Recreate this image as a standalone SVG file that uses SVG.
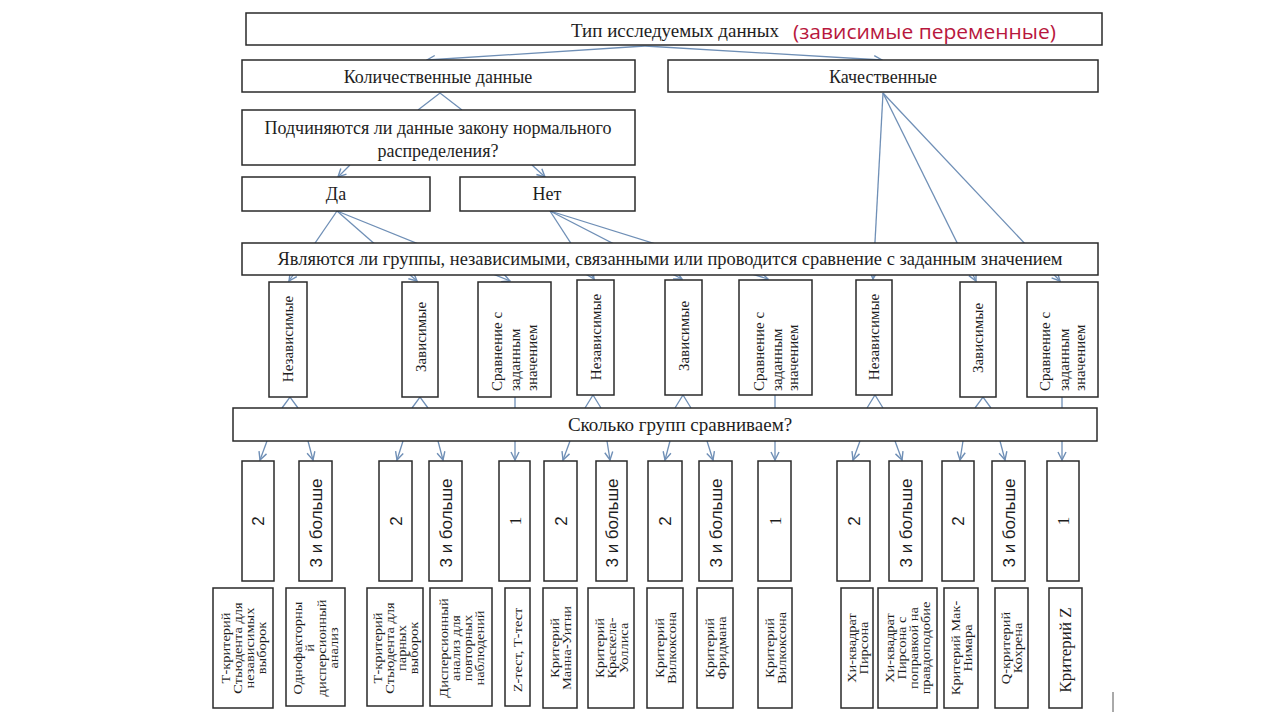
<svg xmlns="http://www.w3.org/2000/svg" width="1280" height="720" viewBox="0 0 1280 720">
<defs>
<marker id="arr" viewBox="0 0 10 10" refX="9" refY="5" markerWidth="10" markerHeight="10" markerUnits="userSpaceOnUse" orient="auto">
<path d="M1,1 L9,5 L1,9" fill="none" stroke="#6f8fb6" stroke-width="1.4"/>
</marker>
<style>
.b{fill:#fff;stroke:#2a2a2a;stroke-width:1.5}
.t{font-family:"Liberation Serif","Times New Roman",serif;fill:#1e1e1e}
.h{font-size:18px;text-anchor:middle}
.r3{font-size:15px}
.r4{font-family:"Liberation Sans",Arial,sans-serif;font-size:17px;fill:#1e1e1e;text-anchor:middle;dominant-baseline:central}
.r5{font-size:12px;text-anchor:middle;dominant-baseline:central}
.c{fill:none;stroke:#6f8fb6;stroke-width:1.3}
.ca{fill:none;stroke:#6f8fb6;stroke-width:1.3;marker-end:url(#arr)}
</style>
</defs>
<rect width="1280" height="720" fill="#fff"/>

<g id="connectors">
<line class="ca" x1="645" y1="46" x2="427" y2="60"/>
<line class="ca" x1="645" y1="46" x2="882" y2="60"/>
<path class="c" d="M418,110 L440,93 L462,110"/>
<line class="ca" x1="350" y1="165" x2="338" y2="177"/>
<line class="ca" x1="532" y1="165" x2="545" y2="177"/>
<line class="ca" x1="337" y1="211" x2="289" y2="281"/>
<line class="ca" x1="337" y1="211" x2="417" y2="281"/>
<line class="ca" x1="337" y1="211" x2="510" y2="281"/>
<line class="ca" x1="550" y1="211" x2="594" y2="279"/>
<line class="ca" x1="550" y1="211" x2="682" y2="279"/>
<line class="ca" x1="550" y1="211" x2="768" y2="279"/>
<line class="ca" x1="883" y1="93" x2="873" y2="279"/>
<line class="ca" x1="883" y1="93" x2="976" y2="281"/>
<line class="ca" x1="883" y1="93" x2="1060" y2="281"/>
<path class="c" d="M282,408 L290,397 L298,408"/>
<path class="c" d="M412,408 L420,397 L428,408"/>
<line class="c" x1="515" y1="397" x2="515" y2="408"/>
<path class="c" d="M585,408 L593,395 L601,408"/>
<path class="c" d="M675,408 L683,395 L691,408"/>
<line class="c" x1="775" y1="395" x2="775" y2="408"/>
<path class="c" d="M867,408 L875,395 L883,408"/>
<path class="c" d="M975,408 L983,397 L991,408"/>
<line class="c" x1="1062" y1="397" x2="1062" y2="408"/>
<line class="ca" x1="267" y1="441" x2="260" y2="460"/>
<line class="ca" x1="308" y1="441" x2="313" y2="460"/>
<line class="ca" x1="403" y1="441" x2="397" y2="460"/>
<line class="ca" x1="438" y1="441" x2="443" y2="460"/>
<line class="ca" x1="515" y1="441" x2="515" y2="460"/>
<line class="ca" x1="570" y1="441" x2="563" y2="460"/>
<line class="ca" x1="607" y1="441" x2="610" y2="460"/>
<line class="ca" x1="670" y1="441" x2="665" y2="460"/>
<line class="ca" x1="707" y1="441" x2="713" y2="460"/>
<line class="ca" x1="775" y1="441" x2="775" y2="460"/>
<line class="ca" x1="860" y1="441" x2="853" y2="460"/>
<line class="ca" x1="895" y1="441" x2="902" y2="460"/>
<line class="ca" x1="963" y1="441" x2="960" y2="460"/>
<line class="ca" x1="1000" y1="441" x2="1005" y2="460"/>
<line class="ca" x1="1062" y1="441" x2="1062" y2="460"/>
</g>

<g id="n-type"><rect class="b" x="246" y="13" width="856" height="32"/>
<text class="t" x="675" y="37" font-size="19" text-anchor="middle">Тип исследуемых данных</text>
<text x="793" y="39" font-family="'Open Sans','Liberation Sans',sans-serif" font-size="20" fill="#b8173d" textLength="263" lengthAdjust="spacingAndGlyphs">(зависимые переменные)</text></g>
<g id="n-quant"><rect class="b" x="242" y="60" width="393" height="32"/><text class="t h" x="438" y="83">Количественные данные</text></g>
<g id="n-qual"><rect class="b" x="668" y="60" width="430" height="32"/><text class="t h" x="883" y="83">Качественные</text></g>
<g id="n-normal"><rect class="b" x="242" y="110" width="393" height="55"/><text class="t h" x="438" y="134">Подчиняются ли данные закону нормального</text><text class="t h" x="438" y="157">распределения?</text></g>
<g id="n-yes"><rect class="b" x="242" y="177" width="188" height="34"/><text class="t h" x="336" y="200">Да</text></g>
<g id="n-no"><rect class="b" x="460" y="177" width="175" height="34"/><text class="t h" x="547" y="200">Нет</text></g>
<g id="n-groups"><rect class="b" x="242" y="243" width="856" height="32"/><text class="t h" x="670" y="265" textLength="785" lengthAdjust="spacingAndGlyphs">Являются ли группы, независимыми, связанными или проводится сравнение с заданным значением</text></g>

<g id="n-ind1"><rect class="b" x="269" y="282" width="38" height="115"/><text class="t r3" text-anchor="middle" dominant-baseline="central" transform="translate(288,339) rotate(-90)">Независимые</text></g>
<g id="n-dep1"><rect class="b" x="402" y="282" width="36" height="115"/><text class="t r3" text-anchor="middle" dominant-baseline="central" transform="translate(421,337) rotate(-90)">Зависимые</text></g>
<g id="n-cmp1"><rect class="b" x="478" y="282" width="73" height="115"/><text class="t r3" dominant-baseline="central" transform="translate(514,391) rotate(-90)"><tspan x="0" y="-17">Сравнение с</tspan><tspan x="0" y="1">заданным</tspan><tspan x="0" y="18">значением</tspan></text></g>
<g id="n-ind2"><rect class="b" x="577" y="280" width="37" height="115"/><text class="t r3" text-anchor="middle" dominant-baseline="central" transform="translate(596,337) rotate(-90)">Независимые</text></g>
<g id="n-dep2"><rect class="b" x="665" y="280" width="37" height="115"/><text class="t r3" text-anchor="middle" dominant-baseline="central" transform="translate(684,336) rotate(-90)">Зависимые</text></g>
<g id="n-cmp2"><rect class="b" x="739" y="280" width="73" height="115"/><text class="t r3" dominant-baseline="central" transform="translate(775,391) rotate(-90)"><tspan x="0" y="-16">Сравнение с</tspan><tspan x="0" y="2">заданным</tspan><tspan x="0" y="18">значением</tspan></text></g>
<g id="n-ind3"><rect class="b" x="856" y="280" width="36" height="115"/><text class="t r3" text-anchor="middle" dominant-baseline="central" transform="translate(874,337) rotate(-90)">Независимые</text></g>
<g id="n-dep3"><rect class="b" x="960" y="282" width="36" height="115"/><text class="t r3" text-anchor="middle" dominant-baseline="central" transform="translate(978,338) rotate(-90)">Зависимые</text></g>
<g id="n-cmp3"><rect class="b" x="1027" y="282" width="71" height="115"/><text class="t r3" dominant-baseline="central" transform="translate(1062,391) rotate(-90)"><tspan x="0" y="-17">Сравнение с</tspan><tspan x="0" y="2">заданным</tspan><tspan x="0" y="18">значением</tspan></text></g>

<g id="n-count"><rect class="b" x="233" y="408" width="864" height="33"/><text class="t" x="680" y="431" font-size="19" text-anchor="middle">Сколько групп сравниваем?</text></g>

<g id="n-k1"><rect class="b" x="242" y="461" width="32" height="120"/><text class="r4" transform="translate(258,521) rotate(-90)">2</text></g>
<g id="n-k2"><rect class="b" x="299" y="461" width="33" height="120"/><text class="r4" transform="translate(316,523) rotate(-90)">3 и больше</text></g>
<g id="n-k3"><rect class="b" x="379" y="461" width="33" height="120"/><text class="r4" transform="translate(396,521) rotate(-90)">2</text></g>
<g id="n-k4"><rect class="b" x="429" y="461" width="33" height="120"/><text class="r4" transform="translate(446,523) rotate(-90)">3 и больше</text></g>
<g id="n-k5"><rect class="b" x="499" y="461" width="31" height="120"/><text class="t" font-size="17" text-anchor="middle" dominant-baseline="central" transform="translate(515,521) rotate(-90)">1</text></g>
<g id="n-k6"><rect class="b" x="544" y="461" width="33" height="120"/><text class="r4" transform="translate(561,521) rotate(-90)">2</text></g>
<g id="n-k7"><rect class="b" x="596" y="461" width="31" height="120"/><text class="r4" transform="translate(612,523) rotate(-90)">3 и больше</text></g>
<g id="n-k8"><rect class="b" x="648" y="461" width="34" height="120"/><text class="r4" transform="translate(665,521) rotate(-90)">2</text></g>
<g id="n-k9"><rect class="b" x="699" y="461" width="33" height="120"/><text class="r4" transform="translate(716,523) rotate(-90)">3 и больше</text></g>
<g id="n-k10"><rect class="b" x="758" y="461" width="33" height="120"/><text class="t" font-size="17" text-anchor="middle" dominant-baseline="central" transform="translate(775,521) rotate(-90)">1</text></g>
<g id="n-k11"><rect class="b" x="837" y="461" width="33" height="120"/><text class="r4" transform="translate(854,521) rotate(-90)">2</text></g>
<g id="n-k12"><rect class="b" x="889" y="461" width="33" height="120"/><text class="r4" transform="translate(906,523) rotate(-90)">3 и больше</text></g>
<g id="n-k13"><rect class="b" x="942" y="461" width="32" height="120"/><text class="r4" transform="translate(958,521) rotate(-90)">2</text></g>
<g id="n-k14"><rect class="b" x="992" y="461" width="33" height="120"/><text class="r4" transform="translate(1009,523) rotate(-90)">3 и больше</text></g>
<g id="n-k15"><rect class="b" x="1047" y="461" width="32" height="120"/><text class="t" font-size="17" text-anchor="middle" dominant-baseline="central" transform="translate(1063,521) rotate(-90)">1</text></g>

<g id="n-m1"><rect class="b" x="213" y="588" width="60" height="120"/><text class="t r5" transform="translate(243,648) rotate(-90) scale(1.2,1)"><tspan x="0" y="-18">Т-критерий</tspan><tspan x="0" y="-6">Стьюдента для</tspan><tspan x="0" y="6">независимых</tspan><tspan x="0" y="18">выборок</tspan></text></g>
<g id="n-m2"><rect class="b" x="286" y="588" width="59" height="118"/><text class="t r5" transform="translate(315,648) rotate(-90) scale(1.2,1)"><tspan x="0" y="-18">Однофакторны</tspan><tspan x="0" y="-6">й</tspan><tspan x="0" y="6">дисперсионный</tspan><tspan x="0" y="18">анализ</tspan></text></g>
<g id="n-m3"><rect class="b" x="367" y="588" width="56" height="118"/><text class="t r5" transform="translate(395,648) rotate(-90) scale(1.2,1)"><tspan x="0" y="-18">Т-критерий</tspan><tspan x="0" y="-6">Стьюдента для</tspan><tspan x="0" y="6">парных</tspan><tspan x="0" y="18">выборок</tspan></text></g>
<g id="n-m4"><rect class="b" x="430" y="588" width="62" height="118"/><text class="t r5" transform="translate(461,648) rotate(-90) scale(1.2,1)"><tspan x="0" y="-18">Дисперсионный</tspan><tspan x="0" y="-6">анализ для</tspan><tspan x="0" y="6">повторных</tspan><tspan x="0" y="18">наблюдений</tspan></text></g>
<g id="n-m5"><rect class="b" x="505" y="588" width="25" height="118"/><text class="t r5" transform="translate(517.5,650) rotate(-90) scale(1.2,1)">Z-тест, Т-тест</text></g>
<g id="n-m6"><rect class="b" x="543" y="588" width="34" height="120"/><text class="t r5" transform="translate(560,648) rotate(-90) scale(1.2,1)"><tspan x="0" y="-6">Критерий</tspan><tspan x="0" y="6">Манна-Уитни</tspan></text></g>
<g id="n-m7"><rect class="b" x="588" y="588" width="46" height="120"/><text class="t r5" transform="translate(611,648) rotate(-90) scale(1.2,1)"><tspan x="0" y="-12">Критерий</tspan><tspan x="0" y="0">Краскела-</tspan><tspan x="0" y="12">Уоллиса</tspan></text></g>
<g id="n-m8"><rect class="b" x="647" y="588" width="36" height="120"/><text class="t r5" transform="translate(665,648) rotate(-90) scale(1.2,1)"><tspan x="0" y="-6">Критерий</tspan><tspan x="0" y="6">Вилкоксона</tspan></text></g>
<g id="n-m9"><rect class="b" x="697" y="588" width="36" height="120"/><text class="t r5" transform="translate(715,648) rotate(-90) scale(1.2,1)"><tspan x="0" y="-6">Критерий</tspan><tspan x="0" y="6">Фридмана</tspan></text></g>
<g id="n-m10"><rect class="b" x="758" y="588" width="34" height="120"/><text class="t r5" transform="translate(775,648) rotate(-90) scale(1.2,1)"><tspan x="0" y="-6">Критерий</tspan><tspan x="0" y="6">Вилкоксона</tspan></text></g>
<g id="n-m11"><rect class="b" x="841" y="588" width="32" height="120"/><text class="t r5" transform="translate(857,648) rotate(-90) scale(1.2,1)"><tspan x="0" y="-6">Хи-квадрат</tspan><tspan x="0" y="6">Пирсона</tspan></text></g>
<g id="n-m12"><rect class="b" x="878" y="588" width="59" height="120"/><text class="t r5" transform="translate(907.5,648) rotate(-90) scale(1.2,1)"><tspan x="0" y="-18">Хи-квадрат</tspan><tspan x="0" y="-6">Пирсона с</tspan><tspan x="0" y="6">поправкой на</tspan><tspan x="0" y="18">правдоподобие</tspan></text></g>
<g id="n-m13"><rect class="b" x="944" y="588" width="34" height="120"/><text class="t r5" transform="translate(961,648) rotate(-90) scale(1.2,1)"><tspan x="0" y="-6">Критерий Мак-</tspan><tspan x="0" y="6">Нимара</tspan></text></g>
<g id="n-m14"><rect class="b" x="995" y="588" width="33" height="120"/><text class="t r5" transform="translate(1011.5,648) rotate(-90) scale(1.2,1)"><tspan x="0" y="-6">Q-критерий</tspan><tspan x="0" y="6">Кохрена</tspan></text></g>
<g id="n-m15"><rect class="b" x="1049" y="588" width="33" height="120"/><text class="t" font-size="17" text-anchor="middle" dominant-baseline="central" transform="translate(1065.5,650) rotate(-90)">Критерий Z</text></g>

<line x1="1113" y1="692" x2="1113" y2="712" stroke="#555" stroke-width="1"/>
</svg>
